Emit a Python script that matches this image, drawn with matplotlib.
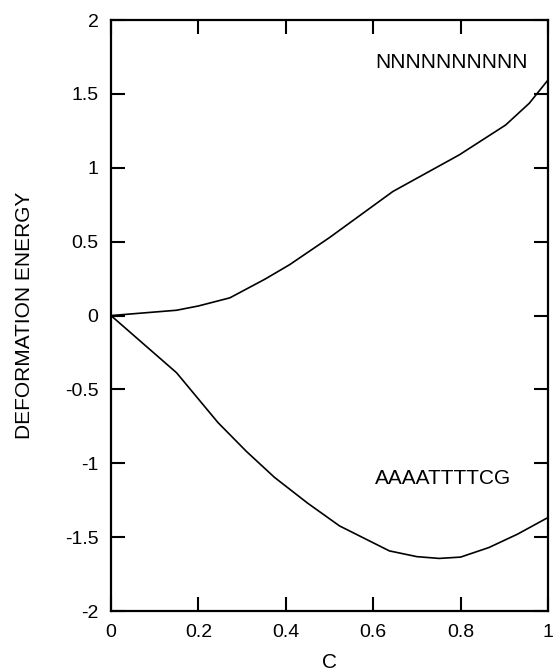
import matplotlib
matplotlib.use("Agg")
from matplotlib import pyplot as plt

plt.rcParams['font.family'] = ['Liberation Sans', 'DejaVu Sans']

# NNNNNNNNNN curve
c_nnn = [0, 0.15, 0.2, 0.272, 0.352, 0.409, 0.5, 0.645, 0.797, 0.903, 0.957, 1.0]
e_nnn = [0, 0.036, 0.065, 0.12, 0.246, 0.345, 0.528, 0.84, 1.088, 1.29, 1.437, 1.595]

# AAAATTTTCG curve
c_at = [0, 0.15, 0.245, 0.31, 0.374, 0.45, 0.523, 0.637, 0.70, 0.751, 0.80, 0.865, 0.93, 1.0]
e_at = [0, -0.387, -0.725, -0.92, -1.095, -1.27, -1.424, -1.593, -1.632, -1.644, -1.635, -1.57, -1.48, -1.367]

xticks = [0, 0.2, 0.4, 0.6, 0.8, 1]
xticklabels = ['0', '0.2', '0.4', '0.6', '0.8', '1']
yticks = [-2, -1.5, -1, -0.5, 0, 0.5, 1, 1.5, 2]
yticklabels = ['-2', '-1.5', '-1', '-0.5', '0', '0.5', '1', '1.5', '2']

fig = plt.figure(figsize=(5.53, 6.71), dpi=100)
ax = fig.add_axes([0.2007, 0.0894, 0.7903, 0.8806])

ax.plot(c_nnn, e_nnn, color='black', lw=1.2)
ax.plot(c_at, e_at, color='black', lw=1.2)

ax.text(0.605, 1.71, 'NNNNNNNNNN', fontsize=15, va='center', ha='left')
ax.text(0.605, -1.10, 'AAAATTTTCG', fontsize=15, va='center', ha='left')

ax.set_xlim(0, 1)
ax.set_ylim(-2, 2)
ax.set_xticks(xticks)
ax.set_xticklabels(xticklabels)
ax.set_yticks(yticks)
ax.set_yticklabels(yticklabels)
ax.tick_params(direction='in', length=10, width=1.5, labelsize=14,
               top=True, right=True, pad=9)
for s in ax.spines.values():
    s.set_linewidth(1.6)

ax.set_xlabel('C', fontsize=15, labelpad=9)
ax.set_ylabel('DEFORMATION ENERGY', fontsize=15, labelpad=22)

fig.savefig('out.png', dpi=100)
